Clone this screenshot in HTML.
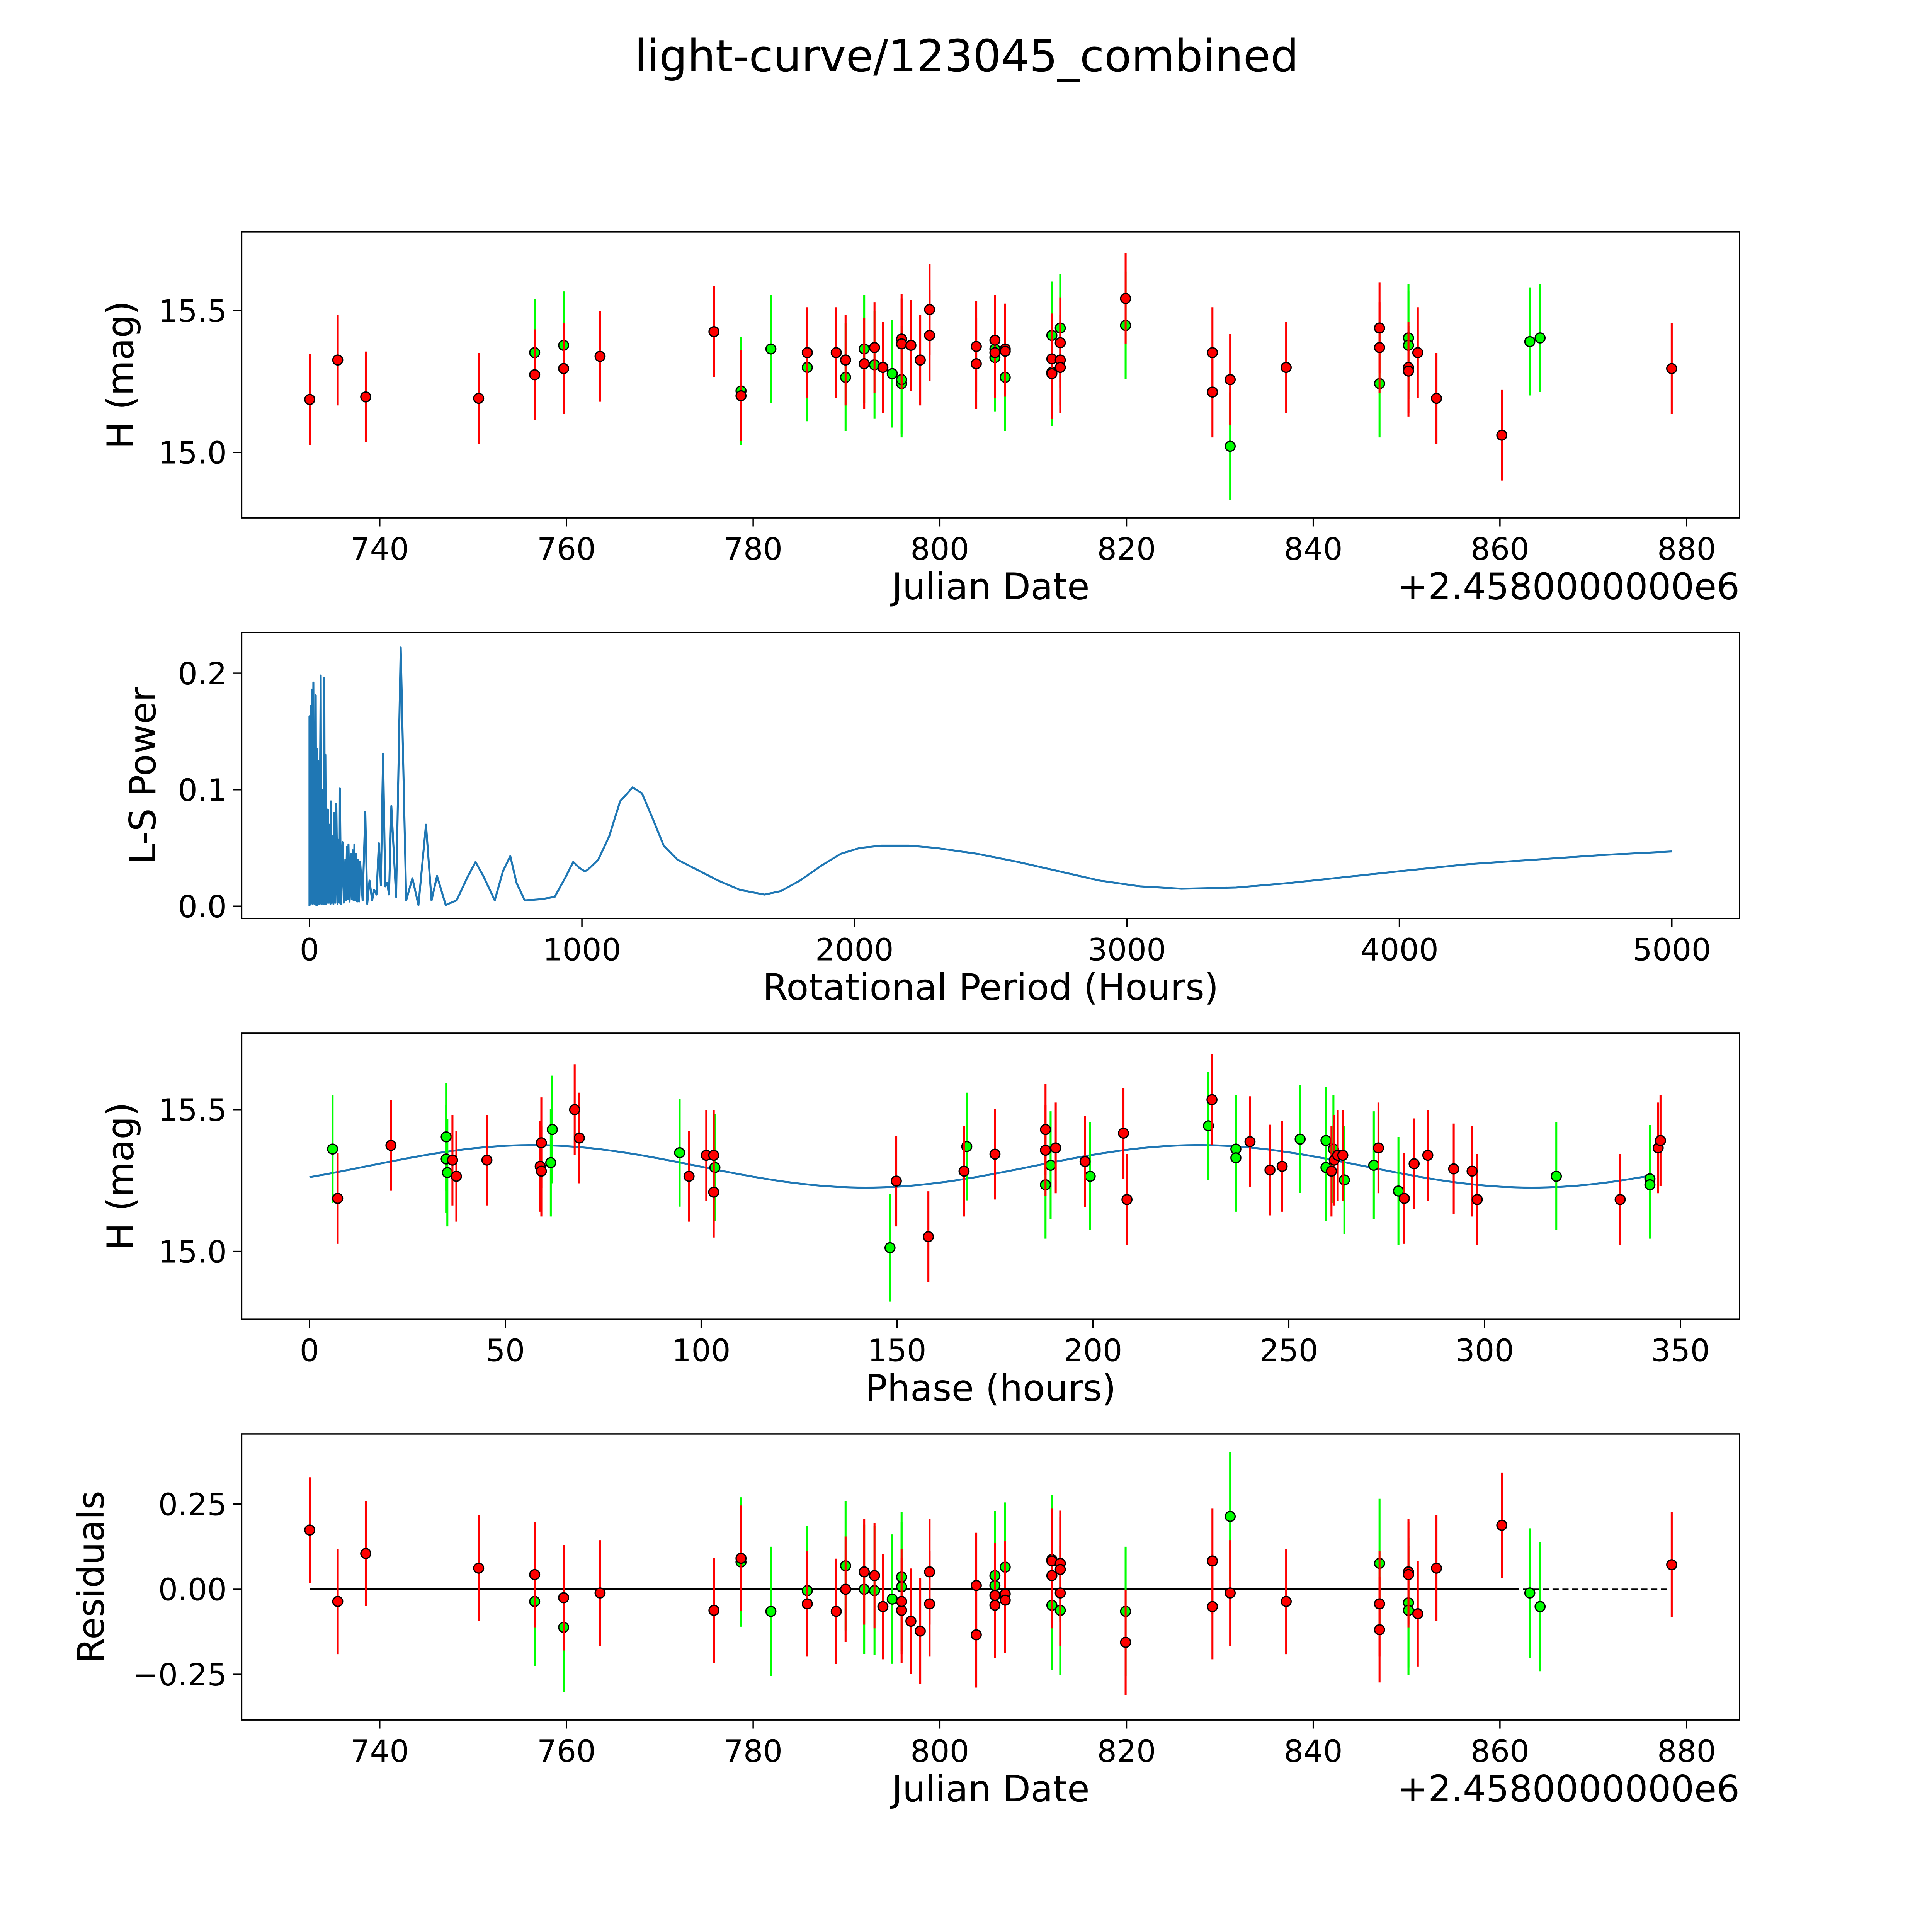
<!DOCTYPE html>
<html><head><meta charset="utf-8">
<style>
html,body{margin:0;padding:0;background:#fff;overflow:hidden;}
svg{display:block;width:100vw;height:100vw;font-family:"DejaVu Sans","Liberation Sans",sans-serif;}
</style></head>
<body>
<svg id="fig" xmlns="http://www.w3.org/2000/svg" viewBox="0 0 1567 1567" preserveAspectRatio="xMinYMin meet">
<rect x="0" y="0" width="1567" height="1567" fill="#fff"/>
<text x="784" y="58" font-size="36" text-anchor="middle">light-curve/123045_combined</text>
</svg>
<script>
// ---------- Panel 1 data: magnitude vs Julian date ----------
const redDate = [732.5,735.5,738.5,750.6,756.6,759.7,763.6,775.8,778.7,785.8,788.9,789.9,791.9,793.0,793.9,795.9,795.9,796.9,797.9,798.9,798.9,803.9,803.9,805.9,805.9,807.0,807.0,812.0,812.0,812.9,812.9,812.9,819.9,829.2,829.2,831.1,837.1,847.1,847.1,850.2,850.2,851.2,853.2,860.2,878.4];
const redMag = [15.187,15.326,15.196,15.191,15.274,15.296,15.339,15.426,15.2,15.352,15.352,15.326,15.313,15.37,15.3,15.4,15.383,15.378,15.326,15.504,15.413,15.374,15.313,15.396,15.352,15.365,15.357,15.33,15.278,15.387,15.326,15.3,15.543,15.352,15.213,15.257,15.3,15.439,15.37,15.3,15.287,15.352,15.191,15.061,15.296];
const greenDate = [756.6,759.7,778.7,781.9,785.8,789.9,791.9,793.0,794.9,795.9,795.9,805.9,805.9,807.0,812.0,812.0,812.9,819.9,831.1,847.1,850.2,850.2,863.2,864.3];
const greenMag = [15.352,15.378,15.217,15.365,15.3,15.265,15.365,15.309,15.278,15.243,15.257,15.365,15.335,15.265,15.413,15.283,15.439,15.448,15.022,15.243,15.404,15.378,15.391,15.404];
const magErrRed = 0.16;
const magErrGreen = 0.19;

// ---------- Panel 2 data: Lomb-Scargle periodogram ----------
const lsPeriod = [0,0,3,5.7,7,8.6,11,14.3,18,22.9,25,27.5,29.5,31.5,36,41.2,43.5,45.8,50,54.4,56.5,58.4,61,63,65,67.5,71,74.4,77,79,82,85.9,88,90.4,95,98.5,103,107.6,110,111.6,116,121.3,126,131.7,134,137.4,140,143.1,147,151.7,155,159.1,162,164.9,168,171.7,175,178.6,182,186,195,204.9,212,220.4,230,237.5,246,254.7,262,270.2,278,285,292,300.5,318,334.9,355,377.8,400,427.6,448,468.2,500,540,580,609.6,640,680,710,737,760,790,850,900,940,968,990,1010,1020,1060,1100,1140,1186,1220,1260,1300,1350,1400,1450,1500,1580,1670,1730,1800,1880,1950,2020,2100,2200,2300,2450,2600,2750,2900,3050,3200,3400,3600,3800,4000,4250,4500,4750,5000];
const lsPower = [0,0.163,0.002,0.172,0.003,0.186,0.002,0.192,0.002,0.181,0.001,0.135,0.001,0.125,0.002,0.198,0.002,0.1,0.002,0.196,0.002,0.13,0.002,0.07,0.003,0.083,0.003,0.07,0.002,0.09,0.003,0.06,0.002,0.08,0.003,0.088,0.002,0.057,0.003,0.101,0.002,0.055,0.003,0.04,0.005,0.051,0.006,0.053,0.004,0.045,0.006,0.048,0.005,0.053,0.005,0.045,0.004,0.04,0.004,0.038,0.005,0.081,0.002,0.022,0.005,0.014,0.01,0.054,0.018,0.131,0.017,0.02,0.01,0.086,0.008,0.222,0.005,0.024,0.001,0.07,0.005,0.026,0.001,0.005,0.025,0.038,0.025,0.005,0.03,0.043,0.02,0.005,0.006,0.008,0.025,0.038,0.033,0.03,0.031,0.04,0.06,0.09,0.102,0.097,0.075,0.052,0.04,0.034,0.028,0.022,0.014,0.01,0.013,0.022,0.035,0.045,0.05,0.052,0.052,0.05,0.045,0.038,0.03,0.022,0.017,0.015,0.016,0.02,0.025,0.03,0.036,0.04,0.044,0.047];

// ---------- Panel 3 data: phased light curve ----------
const redPhase = [7.2,20.8,36.5,37.5,45.3,58.9,59.2,59.2,67.7,68.9,96.9,101.3,103.2,103.2,149.8,158,167.1,175,187.9,187.9,190.5,198,207.8,208.7,230.4,240.1,245.2,248.3,260.9,261.6,262.5,263.8,272.9,279.5,282,285.5,292.1,296.8,298.1,334.6,344.3,344.9];
const redPhaseMag = [15.187,15.374,15.322,15.265,15.322,15.3,15.283,15.383,15.5,15.4,15.265,15.339,15.339,15.209,15.248,15.052,15.283,15.343,15.43,15.357,15.365,15.317,15.417,15.183,15.535,15.387,15.287,15.3,15.283,15.322,15.339,15.339,15.365,15.187,15.309,15.339,15.291,15.283,15.183,15.183,15.365,15.391];
const greenPhase = [5.9,34.9,34.9,35.2,61.6,62,94.5,103.5,148.2,167.8,187.9,189.2,199.3,229.5,236.5,236.5,252.9,259.5,259.5,261.4,264.2,271.7,278,318.3,342.2,342.2];
const greenPhaseMag = [15.361,15.404,15.326,15.278,15.313,15.43,15.348,15.296,15.013,15.37,15.235,15.304,15.265,15.443,15.361,15.33,15.396,15.391,15.296,15.361,15.252,15.304,15.213,15.265,15.256,15.235];
// sinusoidal model fit parameters
const modelMean = 15.30, modelAmp = 0.075, modelPeriod = 170, modelPeakPhase = 57, modelMaxPhase = 343;

// ---------- Panel 4 data: residuals ----------
const redResid = [0.174,-0.036,0.105,0.062,0.043,-0.025,-0.011,-0.062,0.091,-0.043,-0.065,0.0,0.051,0.04,-0.051,-0.062,-0.036,-0.094,-0.123,-0.043,0.051,-0.134,0.011,-0.047,-0.018,-0.014,-0.032,0.04,0.083,0.076,0.058,-0.011,-0.156,0.083,-0.051,-0.011,-0.036,-0.043,-0.119,0.051,0.043,-0.072,0.062,0.188,0.072];
const greenResid = [-0.036,-0.112,0.08,-0.065,-0.004,0.069,0.0,-0.004,-0.029,0.036,0.007,0.04,0.011,0.065,-0.047,0.087,-0.062,-0.065,0.214,0.076,-0.04,-0.062,-0.011,-0.051];
const residErrRed = 0.155;
const residErrGreen = 0.19;

// ---------- Axis ticks ----------
const dateTicks = [740,760,780,800,820,840,860,880];
const magTicks = [15.0,15.5];
const magTickLabels = ["15.0","15.5"];
const periodTicks = [0,1000,2000,3000,4000,5000];
const powerTicks = [0.0,0.1,0.2];
const powerTickLabels = ["0.0","0.1","0.2"];
const phaseTicks = [0,50,100,150,200,250,300,350];
const residTicks = [0.25,0,-0.25];
const residTickLabels = ["0.25","0.00","\u22120.25"];

const NS = "http://www.w3.org/2000/svg";
const svg = document.getElementById('fig');
function mk(tag, attrs, parent){
  const e = document.createElementNS(NS, tag);
  for (const k in attrs) e.setAttribute(k, attrs[k]);
  (parent||svg).appendChild(e);
  return e;
}
function lin(d0,d1,p0,p1){ return v => p0 + (v-d0)*(p1-p0)/(d1-d0); }

const AX_L = 196, AX_R = 1411;
const dateX = lin(740,880,308,1368);
const periodX = lin(0,5000,251,1356);
const phaseX = lin(0,350,251,1363);
const y1 = lin(15.0,15.5,367,252);
const y2 = lin(0,0.2,735,546);
const y3 = lin(15.0,15.5,1015,900);
const y4 = lin(0,0.25,1289,1220);

function panel(name, top, bottom, xTicks, xLabels, xf, yTicks, yLabels, yf, xTitle, yTitle, yTitleX, offset){
  const g = mk('g', {});
  
  
  const plot = mk('g', {}, g);
  
  
  const frame = mk('rect', {x:AX_L, y:top, width:AX_R-AX_L, height:bottom-top, fill:'none', stroke:'#000', 'stroke-width':1.1}, g);
  
  
  xTicks.forEach((t,i) => {
    const x = xf(t);
    const tk = mk('line', {x1:x, x2:x, y1:bottom, y2:bottom+7, stroke:'#000', 'stroke-width':1.1}, g);
    
    
    const tl = mk('text', {x:x, y:bottom+34, 'font-size':25, 'text-anchor':'middle'}, g);
    
    
    tl.textContent = xLabels[i];
  });
  yTicks.forEach((t,i) => {
    const y = yf(t);
    const tk = mk('line', {x1:AX_L-7, x2:AX_L, y1:y, y2:y, stroke:'#000', 'stroke-width':1.1}, g);
    
    
    const tl = mk('text', {x:AX_L-12, y:y+9, 'font-size':25, 'text-anchor':'end'}, g);
    
    
    tl.textContent = yLabels[i];
  });
  const xt = mk('text', {x:(AX_L+AX_R)/2, y:bottom+66, 'font-size':29.5, 'text-anchor':'middle'}, g);
  
  
  xt.textContent = xTitle;
  const yc = (top+bottom)/2;
  const yt = mk('text', {x:yTitleX, y:yc, 'font-size':29.5, 'text-anchor':'middle', transform:`rotate(-90 ${yTitleX} ${yc})`}, g);
  
  
  yt.textContent = yTitle;
  if (offset){
    const ot = mk('text', {x:AX_R, y:bottom+66, 'font-size':29.5, 'text-anchor':'end'}, g);
    
    
    ot.textContent = offset;
  }
  return plot;
}

function errPoints(parent, xs, ys, err, color, xf, yf, label){
  xs.forEach((v,i) => {
    const x = xf(v);
    const eb = mk('line', {x1:x, x2:x, y1:yf(ys[i]+err), y2:yf(ys[i]-err), stroke:color, 'stroke-width':1.6}, parent);
    
    
  });
  xs.forEach((v,i) => {
    const pt = mk('circle', {cx:xf(v), cy:yf(ys[i]), r:4, fill:color, stroke:'#000', 'stroke-width':1}, parent);
    
    
  });
}

// Panel 1
const dateLabels = dateTicks.map(String);
const p1 = panel('lightcurve-panel', 188, 420, dateTicks, dateLabels, dateX, magTicks, magTickLabels, y1, 'Julian Date', 'H (mag)', 108, '+2.4580000000e6');
errPoints(p1, greenDate, greenMag, magErrGreen, '#00ff00', dateX, y1, 'green-observation');
errPoints(p1, redDate, redMag, magErrRed, '#ff0000', dateX, y1, 'red-observation');

// Panel 2
const p2 = panel('periodogram-panel', 513, 745, periodTicks, periodTicks.map(String), periodX, powerTicks, powerTickLabels, y2, 'Rotational Period (Hours)', 'L-S Power', 126, null);
const lsPts = lsPeriod.map((p,i) => periodX(p).toFixed(2) + ',' + y2(lsPower[i]).toFixed(2)).join(' ');
const lsLine = mk('polyline', {points:lsPts, fill:'none', stroke:'#1f77b4', 'stroke-width':1.6, 'stroke-linejoin':'round'}, p2);



// Panel 3
const p3 = panel('phase-panel', 838, 1070, phaseTicks, phaseTicks.map(String), phaseX, magTicks, magTickLabels, y3, 'Phase (hours)', 'H (mag)', 108, null);
const modelPts = [];
for (let p = 0; p <= modelMaxPhase; p += 2) {
  const m = modelMean + modelAmp * Math.cos(2*Math.PI*(p - modelPeakPhase)/modelPeriod);
  modelPts.push(phaseX(p).toFixed(2) + ',' + y3(m).toFixed(2));
}
const mLine = mk('polyline', {points:modelPts.join(' '), fill:'none', stroke:'#1f77b4', 'stroke-width':1.6}, p3);


errPoints(p3, greenPhase, greenPhaseMag, magErrGreen, '#00ff00', phaseX, y3, 'green-phased');
errPoints(p3, redPhase, redPhaseMag, magErrRed, '#ff0000', phaseX, y3, 'red-phased');

// Panel 4
const p4 = panel('residuals-panel', 1163, 1395, dateTicks, dateLabels, dateX, residTicks, residTickLabels, y4, 'Julian Date', 'Residuals', 84, '+2.4580000000e6');
const zd = mk('line', {x1:dateX(732.5), x2:dateX(878.4), y1:y4(0), y2:y4(0), stroke:'#000', 'stroke-width':1.1, 'stroke-dasharray':'5,3'}, p4);


const zs = mk('line', {x1:dateX(732.5), x2:dateX(862), y1:y4(0), y2:y4(0), stroke:'#000', 'stroke-width':1.3}, p4);


errPoints(p4, greenDate, greenResid, residErrGreen, '#00ff00', dateX, y4, 'green-residual');
errPoints(p4, redDate, redResid, residErrRed, '#ff0000', dateX, y4, 'red-residual');
</script>
</body></html>
